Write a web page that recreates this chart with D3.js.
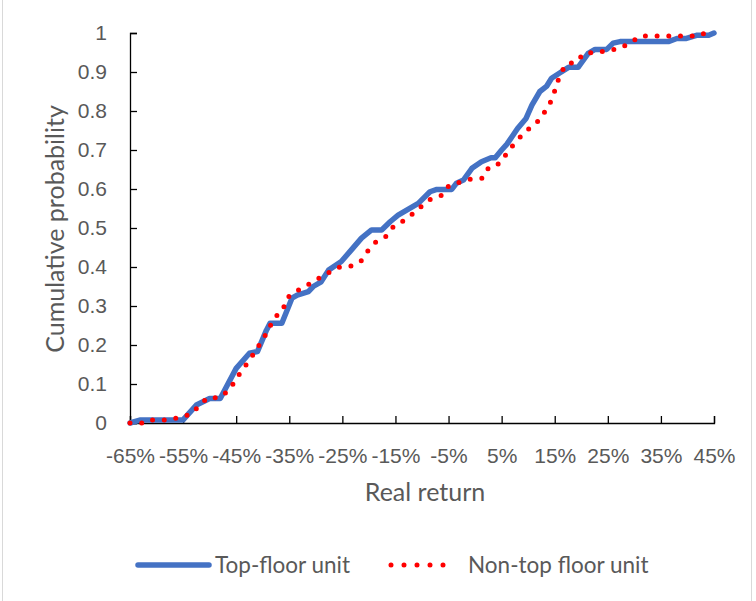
<!DOCTYPE html>
<html>
<head>
<meta charset="utf-8">
<script src="https://cdn.jsdelivr.net/npm/d3@7"></script>
<style>
  html, body { margin: 0; padding: 0; background: #fff; }
  svg { display: block; font-family: Lato, "Open Sans", sans-serif; }
</style>
</head>
<body>
<svg id="chart" width="756" height="601"></svg>
<script>
// ---- data ----
const xTickLabels = ["-65%","-55%","-45%","-35%","-25%","-15%","-5%","5%","15%","25%","35%","45%"];
const xTickValues = [-65,-55,-45,-35,-25,-15,-5,5,15,25,35,45];
const yTickValues = [0,0.1,0.2,0.3,0.4,0.5,0.6,0.7,0.8,0.9,1];

const topFloorReturn = [-65,-63,-55,-52.5,-50,-48,-45,-42.5,-41,-39.3,-38.6,-36.4,-34.5,-33.5,-31.4,-30.5,-29,-27.6,-25.2,-23.3,-21.4,-19.5,-17.6,-16,-14.5,-10.7,-8.5,-7.2,-4.4,-3.5,-2.2,-0.6,1.2,3,3.8,5,6,8,9.6,10.7,12.2,13.5,14.4,16,17.6,19.4,21.3,22.6,24.8,26,27.3,36.4,38,39.8,41.7,44,45];
const topFloorProb   = [0,0.008,0.008,0.046,0.063,0.063,0.14,0.179,0.183,0.238,0.256,0.256,0.32,0.328,0.337,0.35,0.362,0.392,0.414,0.444,0.474,0.495,0.495,0.516,0.533,0.563,0.593,0.599,0.599,0.615,0.623,0.653,0.67,0.68,0.68,0.70,0.715,0.755,0.781,0.815,0.85,0.864,0.884,0.898,0.912,0.912,0.948,0.958,0.958,0.974,0.978,0.978,0.986,0.986,0.994,0.994,1];

const nonTopReturn = [-65,-62,-61,-57.5,-55.5,-53.5,-52,-50.4,-48.2,-46.4,-45.2,-43.9,-42.5,-41.3,-40,-38.9,-37.9,-36.2,-35.5,-33.7,-31.8,-29.8,-27.8,-25.8,-23.6,-21.5,-20.2,-18.7,-16.7,-15.3,-13.4,-11.6,-9.9,-8.2,-6.2,-4.9,-2.8,-0.7,1.5,2.6,4.7,6,7.4,8.9,10.6,12.3,13.5,14.6,15.2,16,17.1,19.1,20.5,22.8,25,27.1,29.3,31.1,42,43,45];
const nonTopProb   = [0,0,0.008,0.008,0.015,0.023,0.044,0.065,0.065,0.083,0.108,0.136,0.16,0.187,0.213,0.24,0.268,0.29,0.32,0.338,0.352,0.368,0.384,0.399,0.401,0.415,0.441,0.464,0.479,0.505,0.519,0.538,0.558,0.576,0.584,0.609,0.618,0.626,0.628,0.656,0.666,0.692,0.717,0.739,0.76,0.779,0.807,0.832,0.862,0.892,0.92,0.926,0.948,0.95,0.955,0.96,0.975,0.992,0.992,0.998,1];

const seriesNames = ["Top-floor unit", "Non-top floor unit"];

// ---- layout ----
const svg = d3.select("#chart");
const plotLeft = 130, plotRight = 714, plotTop = 33, plotBottom = 423;
const textColor = "#595959";

// chart border
svg.append("rect").attr("x", 2.5).attr("y", -5).attr("width", 749).attr("height", 620)
  .attr("fill", "none").attr("stroke", "#d9d9d9").attr("stroke-width", 1);

const x = d3.scaleLinear().domain([-65, 45]).range([plotLeft, plotRight]);
const y = d3.scaleLinear().domain([0, 1]).range([plotBottom, plotTop]);

// y axis
const yAxis = svg.append("g").attr("transform", `translate(${plotLeft},0)`)
  .call(d3.axisRight(y).tickValues(yTickValues).tickSize(7).tickFormat(d3.format("")));
yAxis.select(".domain").attr("stroke", "#000").attr("stroke-width", 1.3);
yAxis.selectAll(".tick line").attr("stroke", "#000").attr("stroke-width", 1.3);
yAxis.selectAll(".tick text").attr("x", -23).attr("text-anchor", "end")
  .attr("fill", textColor).style("font-size", "21px");

// x axis
const xAxis = svg.append("g").attr("transform", `translate(0,${plotBottom})`)
  .call(d3.axisTop(x).tickValues(xTickValues).tickSize(7)
    .tickFormat((d, i) => xTickLabels[i]));
xAxis.select(".domain").attr("stroke", "#000").attr("stroke-width", 1.3);
xAxis.selectAll(".tick line").attr("stroke", "#000").attr("stroke-width", 1.3);
xAxis.selectAll(".tick text").attr("y", 40).attr("dy", 0)
  .attr("fill", textColor).style("font-size", "21px");

// axis titles
svg.append("text").attr("x", 425).attr("y", 501).attr("text-anchor", "middle")
  .attr("fill", textColor).style("font-size", "25px").text("Real return");
svg.append("text").attr("transform", "translate(64,229) rotate(-90)")
  .attr("text-anchor", "middle").attr("fill", textColor).style("font-size", "25px")
  .text("Cumulative probability");

// lines
const line = d3.line().x(d => x(d[0])).y(d => y(d[1]));
const topData = topFloorReturn.map((r, i) => [r, topFloorProb[i]]);
const nonTopData = nonTopReturn.map((r, i) => [r, nonTopProb[i]]);

svg.append("path").datum(topData).attr("d", line)
  .attr("fill", "none").attr("stroke", "#4472C4").attr("stroke-width", 5.5)
  .attr("stroke-linejoin", "round").attr("stroke-linecap", "round");
svg.append("path").datum(nonTopData).attr("d", line)
  .attr("fill", "none").attr("stroke", "#FF0000").attr("stroke-width", 5)
  .attr("stroke-linecap", "round").attr("stroke-dasharray", "0 11.7");

// legend
const lg = svg.append("g");
lg.append("line").attr("x1", 138).attr("x2", 209).attr("y1", 565).attr("y2", 565)
  .attr("stroke", "#4472C4").attr("stroke-width", 5.5).attr("stroke-linecap", "round");
lg.append("text").attr("x", 215).attr("y", 573).attr("fill", textColor)
  .style("font-size", "22.5px").text(seriesNames[0]);
lg.append("line").attr("x1", 391).attr("x2", 456).attr("y1", 565).attr("y2", 565)
  .attr("stroke", "#FF0000").attr("stroke-width", 5).attr("stroke-linecap", "round")
  .attr("stroke-dasharray", "0 13");
lg.append("text").attr("x", 468).attr("y", 573).attr("fill", textColor)
  .style("font-size", "22.5px").text(seriesNames[1]);
</script>
</body>
</html>
